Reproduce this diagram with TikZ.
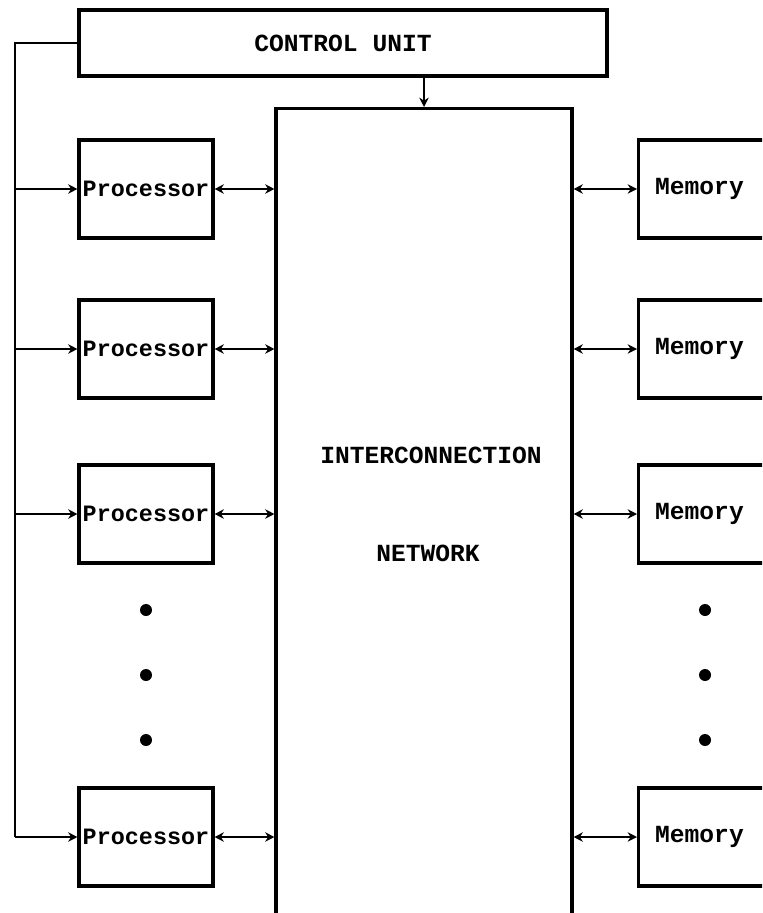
\documentclass[tikz,border=0pt]{standalone}
\usepackage{fontspec}
\setmonofont{Liberation Mono}
\usetikzlibrary{arrows.meta,positioning}
\tikzset{
  box/.style={draw, line width=2.6pt, font=\ttfamily\bfseries\fontsize{21}{24}\selectfont},
  procbox/.style={box, minimum width=40.2mm, minimum height=29.4mm, inner sep=0.5mm, font=\ttfamily\bfseries\fontsize{20}{24}\selectfont},
  membox/.style={box, anchor=west, text width=45mm, align=left, inner xsep=5mm, minimum height=29.4mm},
  label/.style={font=\ttfamily\bfseries\fontsize{21}{24}\selectfont},
  arrow/.style={-{Stealth[length=2.8mm,width=2.8mm]}, line width=2pt},
  biarrow/.style={{Stealth[length=2.8mm,width=2.8mm]}-{Stealth[length=2.8mm,width=2.8mm]}, line width=2pt},
  line/.style={line width=2pt},
}

\begin{document}
\begin{tikzpicture}[x=0.3mm, y=-0.3mm]
  \path[use as bounding box, clip] (0,0) rectangle (762,913);

  % control unit and network
  \node[box, minimum width=158.4mm, minimum height=19.8mm] (cu) at (343,43) {CONTROL UNIT};
  \node[box, minimum width=88.8mm, minimum height=244mm, anchor=north] (net) at (424,107) {};
  \node[label] (inter) at (431,455) {INTERCONNECTION};
  \node[label] (netw) at (428,553) {NETWORK};

  % processors and memories
  \foreach \i/\y in {1/189, 2/349, 3/514, 4/837} {
    \node[procbox] (proc\i) at (146,\y) {Processor};
    \node[membox] (mem\i) at (637,\y) {Memory};
  }

  % dots
  \foreach \y in {610, 675, 740} {
    \fill (146,\y) circle (1.8mm);
    \fill (705,\y) circle (1.8mm);
  }

  % control bus
  \coordinate (bustop) at (15,43);
  \coordinate (busbot) at (15,837);
  \draw[line] (cu.west) -- (bustop) -- (busbot);
  \draw[arrow] (net.north |- cu.south) -- (net.north);

  \foreach \i in {1,...,4} {
    \draw[arrow] (proc\i.west -| bustop) -- (proc\i.west);
    \draw[biarrow] (proc\i.east) -- (proc\i.east -| net.west);
    \draw[biarrow] (mem\i.west -| net.east) -- (mem\i.west);
  }
\end{tikzpicture}
\end{document}
